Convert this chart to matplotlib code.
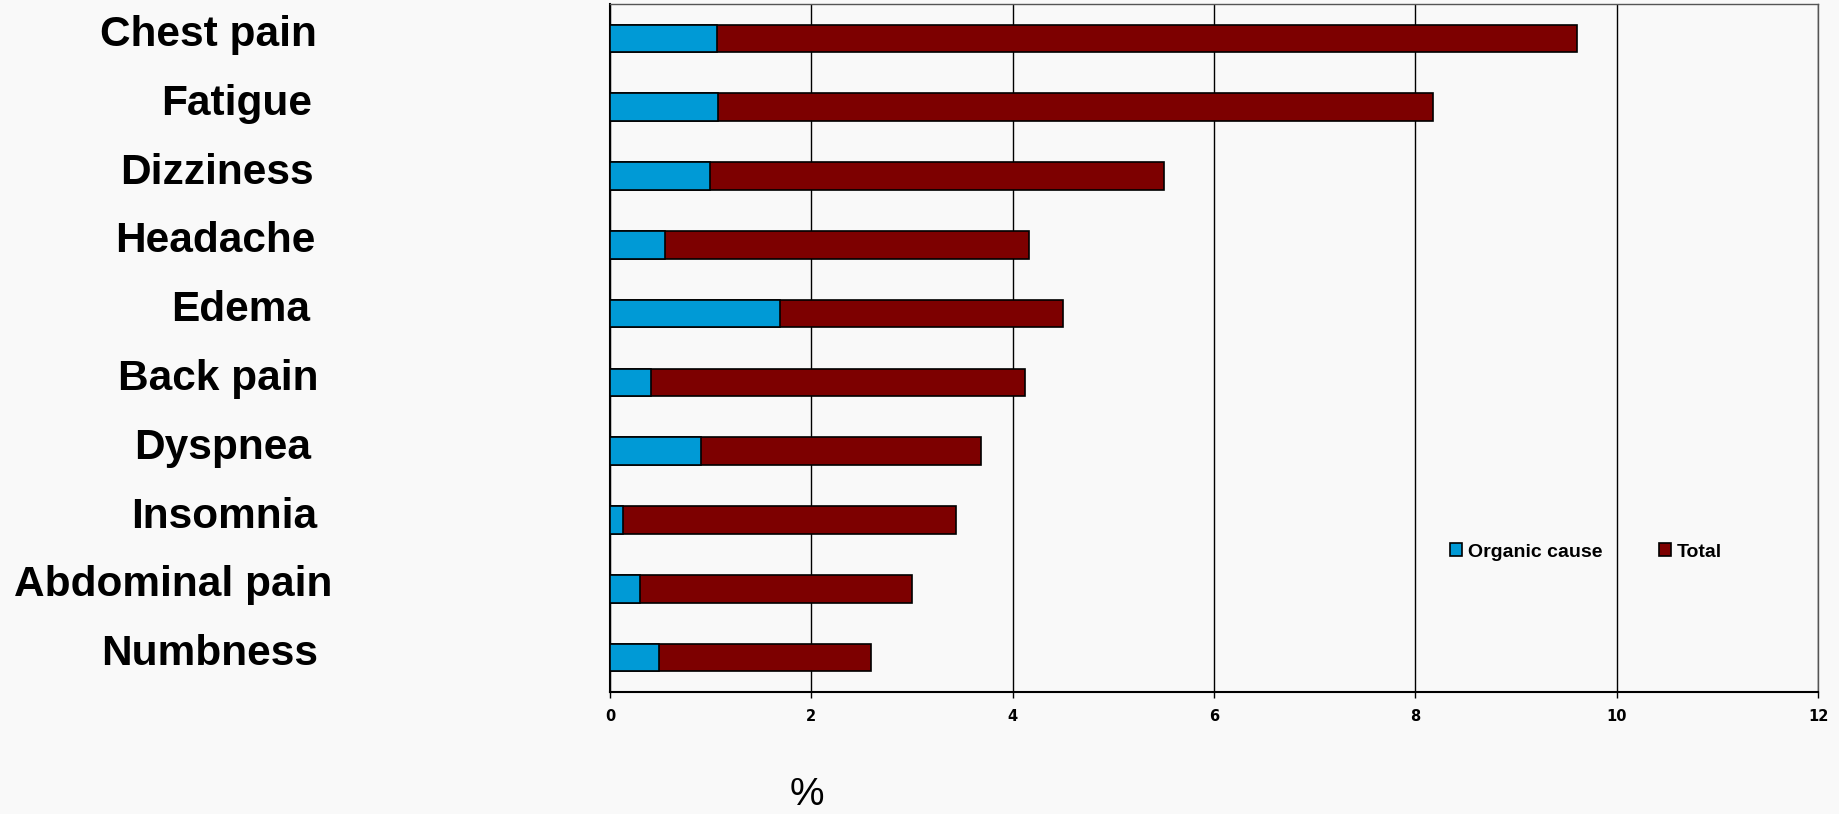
#!/usr/bin/env python3
# -*- coding: utf-8 -*-
import matplotlib
matplotlib.use("Agg")
import matplotlib.pyplot as plt
from matplotlib.transforms import blended_transform_factory

symptoms = ["Chest pain", "Fatigue", "Dizziness", "Headache", "Edema",
            "Back pain", "Dyspnea", "Insomnia", "Abdominal pain", "Numbness"]
organic = [1.06, 1.07, 0.99, 0.55, 1.69, 0.41, 0.90, 0.13, 0.30, 0.49]
total = [9.61, 8.18, 5.50, 4.16, 4.50, 4.12, 3.69, 3.44, 3.00, 2.59]
x_ticks = [0, 2, 4, 6, 8, 10, 12]

# right edge of each category label, in figure pixels (labels are hand placed)
label_right_px = [317, 312, 314, 316, 310, 318, 311, 317, 332, 318]

W, H, DPI = 1839, 814, 100
BLUE = "#009ad6"
RED = "#7d0000"
BG = "#f9f9f9"


def main():
  fig = plt.figure(figsize=(W / DPI, H / DPI), dpi=DPI, facecolor=BG)
  ax = fig.add_axes([610 / W, 1 - 692 / H, 1208 / W, 688 / H])
  ax.set_facecolor(BG)

  ypos = list(range(len(symptoms)))
  ax.barh(ypos, total, height=0.4, color=RED, edgecolor="black",
          linewidth=1.2, label="Total", zorder=3)
  ax.barh(ypos, organic, height=0.4, color=BLUE, edgecolor="black",
          linewidth=1.2, label="Organic cause", zorder=4)

  ax.set_ylim(len(symptoms) - 0.5, -0.5)
  ax.set_xlim(0, 12)
  ax.set_xticks(x_ticks)
  ax.set_xticklabels([str(t) for t in x_ticks],
                     fontdict={"family": ["Liberation Sans Narrow", "DejaVu Sans"],
                               "weight": "bold", "size": 10.5})
  ax.tick_params(axis="x", direction="out", length=4, width=1, pad=8)
  ax.set_yticks([])
  ax.grid(axis="x", color="black", linewidth=1, zorder=1)
  for side in ["left", "bottom"]:
    ax.spines[side].set_linewidth(1.5)
  for side in ["top", "right"]:
    ax.spines[side].set_color("#555555")
    ax.spines[side].set_linewidth(1)

  trans = blended_transform_factory(fig.transFigure, ax.transData)
  for y, name, rx in zip(ypos, symptoms, label_right_px):
    ax.text(rx / W, y - 0.05, name, transform=trans, ha="right", va="center",
            fontsize=30.5, fontweight="bold", family="Liberation Sans",
            clip_on=False)

  handles, labels = ax.get_legend_handles_labels()
  ax.legend(handles[::-1], labels[::-1], ncol=2, frameon=False,
            loc="center", bbox_to_anchor=((1586 - 610) / 1208, (692 - 552) / 688),
            prop={"family": "Liberation Sans", "weight": "bold", "size": 14},
            handlelength=0.6, handleheight=0.6, handletextpad=0.3,
            columnspacing=2.9)

  fig.text(807 / W, 1 - 795 / H, "%", ha="center", va="center", fontsize=28,
           family="Liberation Sans")

  fig.savefig("out.png", dpi=DPI, facecolor=BG)


if __name__ == '__main__':
  main()
